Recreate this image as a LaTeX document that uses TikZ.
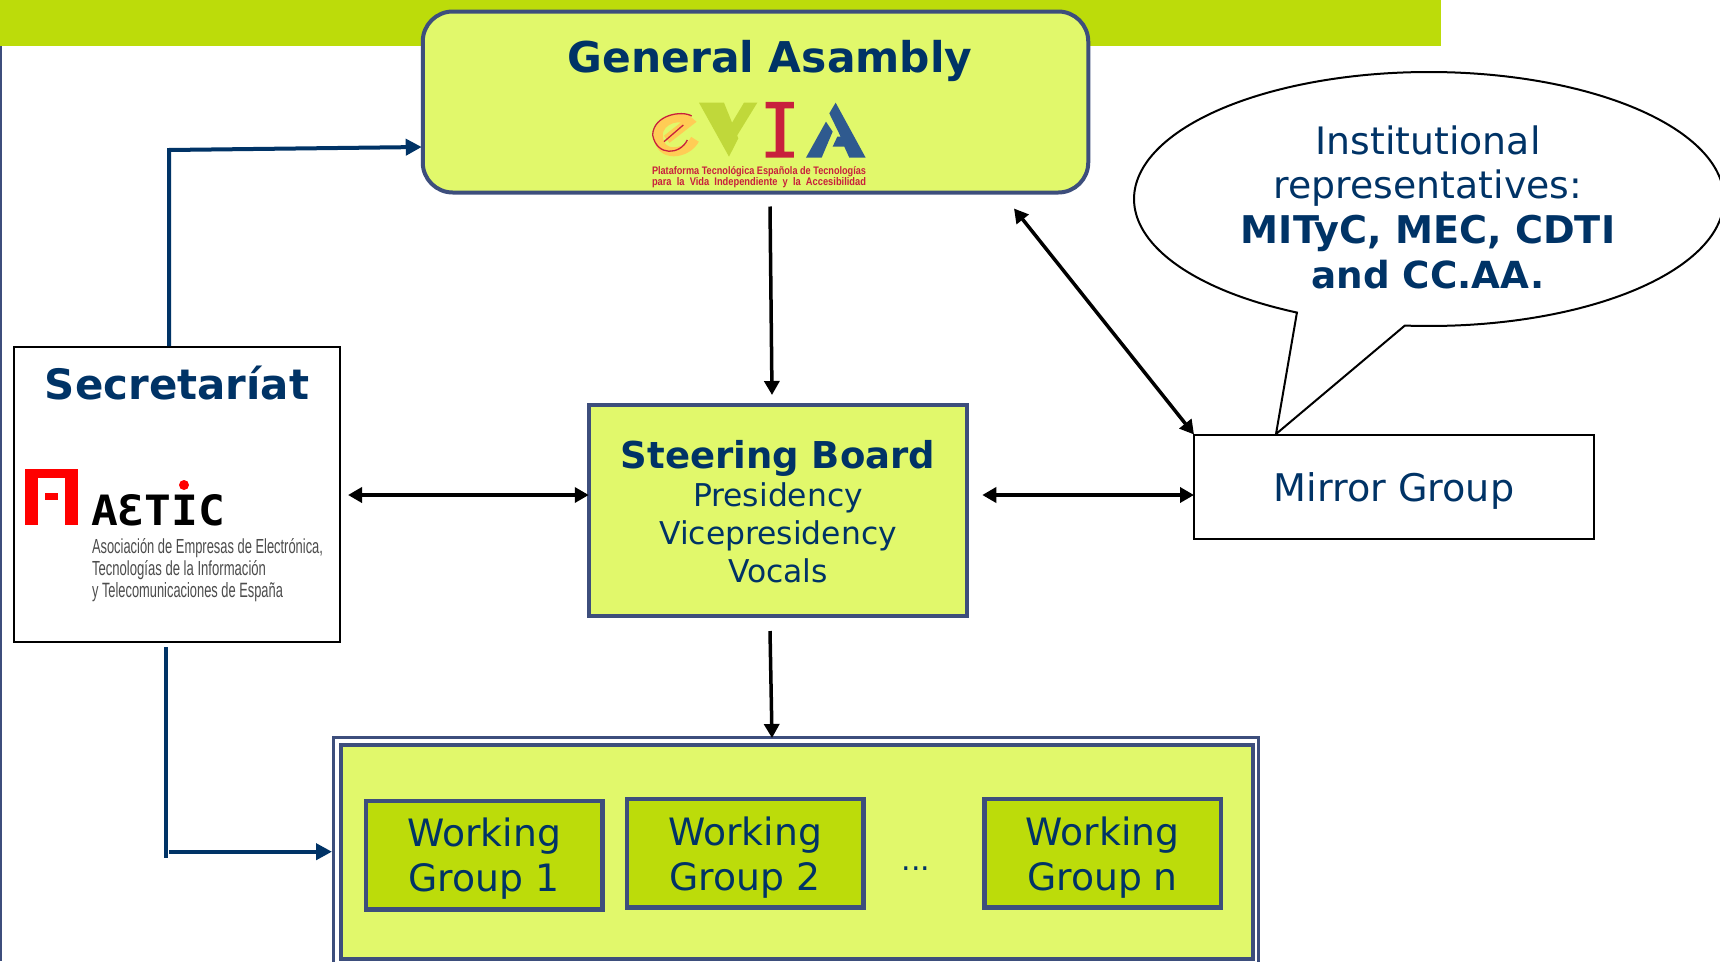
\documentclass[tikz,border=0pt]{standalone}
\usepackage{fontspec}
\usepackage{graphicx}
\setmainfont{DejaVu Sans}
\newfontfamily\logosans{Liberation Sans}
\newfontfamily\logomono{DejaVu Sans Mono}
\usetikzlibrary{arrows.meta}
\definecolor{barlime}{HTML}{BCDC0A}
\definecolor{palelime}{HTML}{E1F86B}
\definecolor{slateedge}{HTML}{3D4E7C}
\definecolor{navytext}{HTML}{003366}
\definecolor{logored}{HTML}{C8203C}
\definecolor{logoblue}{HTML}{2F5A8F}
\definecolor{logoolive}{HTML}{C0D83A}
\definecolor{logoyellow}{HTML}{FFCC55}
\newcommand{\fs}[2]{\fontsize{#1pt}{#2pt}\selectfont}
\tikzset{
  every node/.style={inner sep=0pt,outer sep=0pt,text=navytext,align=center},
  palebox/.style={draw=slateedge,fill=palelime,line width=4pt},
  wgbox/.style={draw=slateedge,fill=barlime,line width=4.5pt,minimum width=236.5pt,minimum height=108.5pt},
  wgtext/.style={font=\fs{37.7}{45}},
  plainbox/.style={draw=black,fill=white,line width=2pt},
  blackarrow/.style={draw=black,line width=3.5pt,-{Triangle[length=14pt,width=15pt]}},
  blackboth/.style={draw=black,line width=3.5pt,{Triangle[length=14pt,width=15pt]}-{Triangle[length=14pt,width=15pt]}},
  bluearrow/.style={draw=navytext,line width=4pt,-{Triangle[length=16pt,width=16pt]}},
  blueline/.style={draw=navytext,line width=4pt},
}
\begin{document}
\begin{tikzpicture}[x=1pt,y=-1pt]
\clip (0,0) rectangle (1720,961);
\fill[white] (0,0) rectangle (1720,961);
% top bar and left rule
\fill[barlime] (0,0) rectangle (1441,46);
\fill[slateedge] (0,46) rectangle (1.5,961);
% boxes
\node[palebox,rounded corners=30pt,minimum width=665.5pt,minimum height=181pt] (ga) at (755.5,102) {};
\node[font=\bfseries\fs{42.4}{50}] (gatitle) at (770,61) {General Asambly};
\node[plainbox,minimum width=326pt,minimum height=295pt] (sec) at (177,494.5) {};
\node[font=\bfseries\fs{41.9}{50}] (sectitle) at (177,383) {Secretaríat};
\node[palebox,minimum width=378.5pt,minimum height=211pt] (sb) at (778,510.5) {};
\node[font=\fs{31.4}{38}] (sbtext) at (778,511.5)
  {{\bfseries\fs{37}{44}Steering Board}\\Presidency\\Vicepresidency\\Vocals};
\node[draw=slateedge,fill=white,line width=3pt,minimum width=925pt,minimum height=240pt] (wgouter) at (796,857) {};
\node[palebox,minimum width=912pt,minimum height=214pt] (wginner) at (796.5,852) {};
\node[wgbox] (wg1) at (484,855) {};
\node[wgbox] (wg2) at (745,853) {};
\node[wgbox] (wgn) at (1102.5,853) {};
\node[wgtext] (wg1t) at (484,859) {Working\\Group 1};
\node[wgtext] (wg2t) at (745,857.5) {Working\\Group 2};
\node[wgtext] (wgnt) at (1102.5,857.5) {Working\\Group n};
\node[font=\fs{30}{36}] (dots) at (916,869) {...};
% callout
\coordinate (tip) at (1276,434);
\draw[black,fill=white,line width=2pt,line join=miter]
  plot[domain=116.6:454.7,samples=240] ({1429+295*cos(\x)},{199+127*sin(\x)}) -- (tip) -- cycle;
\node[font=\fs{37.8}{44.7}] (calltext) at (1428,207) {Institutional\\representatives:\\{\bfseries\fs{38.2}{44.7}MITyC, MEC, CDTI}\\{\bfseries\fs{37.3}{44.7}and CC.AA.}};
\node[plainbox,minimum width=400pt,minimum height=104pt] (mg) at (1394,486.5) {};
\node[font=\fs{38.1}{45}] (mgtext) at (1394,490.5) {Mirror Group};
% connectors
\draw[blackarrow] ([shift={(14.5,14)}]ga.south) -- ([shift={(-6,-10)}]sb.north);
\draw[blackboth] ([shift={(258.5,16)}]ga.south) -- (mg.north west);
\draw[blackboth] ([shift={(8,0.5)}]sec.east) -- ([shift={(0,-15.5)}]sb.west);
\draw[blackboth] ([shift={(15,-15.5)}]sb.east) -- ([shift={(0,8.5)}]mg.west);
\draw[blackarrow] ([shift={(-8,15)}]sb.south) -- ([shift={(-24,1)}]wgouter.north);
\draw[bluearrow] ([shift={(-8,-1)}]sec.north) -- ([shift={(-8,-197)}]sec.north) -- ([shift={(-1,45)}]ga.west);
\coordinate (lowstop) at (165.7,858);
\coordinate (lowstart) at (169,851.7);
\draw[blueline] ([shift={(-11.3,5)}]sec.south) -- (lowstop);
\draw[bluearrow] (lowstart) -- ([xshift=-1.5pt]wgouter.west |- lowstart);
% eVIA logo
\begin{scope}[shift={(600,80)},x=0.3333pt,y=-0.3333pt]
  \draw[logoyellow,line width=9pt] (285,178) .. controls (260,225) and (175,235) .. (175,165) .. controls (175,115) and (250,100) .. (268,125) -- (200,178);
  \draw[logored,line width=1.3pt] (262,180) .. controls (240,225) and (170,230) .. (158,165) .. controls (160,105) and (245,90) .. (275,108);
  \draw[logored,line width=1.3pt] (192,185) -- (250,135);
  \fill[logoolive] (297,68) -- (372,68) -- (415,175) -- (387,230) -- cycle;
  \fill[logoolive] (395,130) -- (432,68) -- (472,68) -- (408,172) -- cycle;
  \fill[logored] (497,66) -- (582,66) -- (582,85) -- (553,85) -- (553,215) -- (582,215) -- (582,233) -- (497,233) -- (497,215) -- (527,215) -- (527,85) -- (497,85) -- cycle;
  \fill[logoblue] (618,233) -- (678,125) -- (698,155) -- (665,233) -- cycle;
  \fill[logoblue] (688,100) -- (707,68) -- (797,233) -- (748,233) -- (733,200) -- (698,200) -- (712,170) -- (722,170) -- cycle;
\end{scope}
\node[text=logored] (evia1) at (759,171.5) {\resizebox{214pt}{8pt}{\bfseries\logosans Plataforma Tecnológica Española de Tecnologías}};
\node[text=logored] (evia2) at (759,183) {\resizebox{214pt}{8pt}{\bfseries\logosans para\ \ la\ \ Vida\ \ Independiente\ \ y\ \ la\ \ Accesibilidad}};
% AETIC logo
\fill[red] (25,469) rectangle (78,525);
\fill[white] (38,478) rectangle (65,525);
\fill[red] (45,493) rectangle (58,500);
\fill[red] (184,485) circle (5);
\node[anchor=west,text=black] (aetic) at (91,510) {\resizebox{134pt}{31pt}{\bfseries\logomono AƐTIC}};
\node[anchor=west,text=black!70] (ae1) at (92,548) {\resizebox{231pt}{15pt}{\logosans Asociación de Empresas de Electrónica,}};
\node[anchor=west,text=black!70] (ae2) at (92,570) {\resizebox{174pt}{15pt}{\logosans Tecnologías de la Información}};
\node[anchor=west,text=black!70] (ae3) at (92,592) {\resizebox{191pt}{15pt}{\logosans y Telecomunicaciones de España}};
\end{tikzpicture}
\end{document}
